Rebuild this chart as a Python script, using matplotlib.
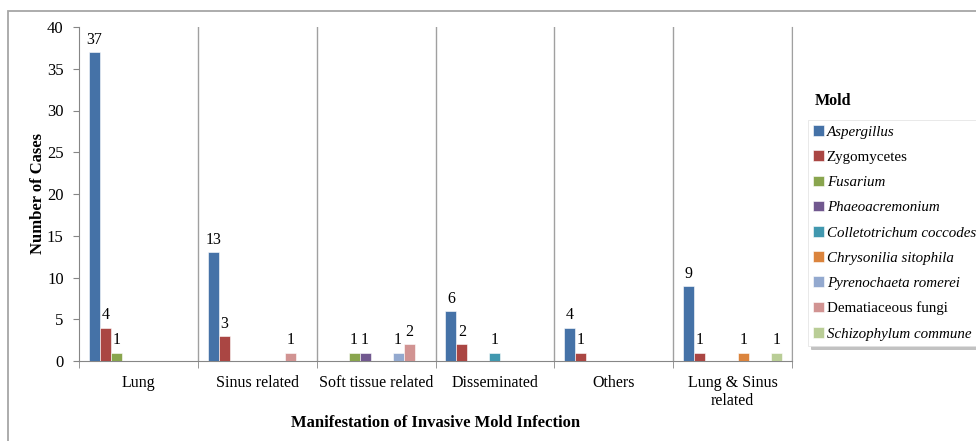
import matplotlib
matplotlib.use("Agg")
import matplotlib.pyplot as plt
import numpy as np
from matplotlib.patches import Rectangle

plt.rcParams['font.family'] = ['Liberation Serif', 'DejaVu Serif']

categories = ["Lung", "Sinus related", "Soft tissue related", "Disseminated",
              "Others", "Lung & Sinus\nrelated"]
series_names = ["Aspergillus", "Zygomycetes", "Fusarium", "Phaeoacremonium",
                "Colletotrichum coccodes", "Chrysonilia sitophila",
                "Pyrenochaeta romerei", "Dematiaceous fungi", "Schizophylum commune"]
italic_flags = [True, False, True, True, True, True, True, False, True]

aspergillus = [37, 13, 0, 6, 4, 9]
zygomycetes = [4, 3, 0, 2, 1, 1]
fusarium = [1, 0, 1, 0, 0, 0]
phaeoacremonium = [0, 0, 1, 0, 0, 0]
colletotrichum = [0, 0, 0, 1, 0, 0]
chrysonilia = [0, 0, 0, 0, 0, 1]
pyrenochaeta = [0, 0, 1, 0, 0, 0]
dematiaceous = [0, 1, 2, 0, 0, 0]
schizophylum = [0, 0, 0, 0, 0, 1]
series_values = [aspergillus, zygomycetes, fusarium, phaeoacremonium, colletotrichum,
                 chrysonilia, pyrenochaeta, dematiaceous, schizophylum]

colors = ["#4572A7", "#AA4643", "#89A54E", "#71588F", "#4198AF",
          "#DB843D", "#93A9CF", "#D19392", "#B9CD96"]

W, H = 976, 441
fig = plt.figure(figsize=(W / 100, H / 100), dpi=100)
ax = fig.add_axes([79 / W, 1 - 361 / H, (792 - 79) / W, (361 - 27) / H])

# outer chart border
fig.patches.append(Rectangle((8 / W, -0.05), 1.1, 1 - 11 / H + 0.05,
                             transform=fig.transFigure, fill=False,
                             edgecolor="#a6a6a6", linewidth=1.3))

n = len(series_names)
bw = 0.0926
x = np.arange(len(categories))
for i, (name, vals, c) in enumerate(zip(series_names, series_values, colors)):
    offs = (i - (n - 1) / 2) * bw
    bars = ax.bar(x + offs, vals, width=bw, color=c, label=name,
                  edgecolor="white", linewidth=0.4, zorder=3)
    labels = [str(v) if v else "" for v in vals]
    ax.bar_label(bars, labels=labels, padding=3, fontsize=11.5)

ax.set_xlim(-0.5, len(categories) - 0.5)
ax.set_ylim(0, 40)
ax.set_yticks(np.arange(0, 41, 5))
ax.tick_params(axis="y", labelsize=12, length=4, color="#868686", pad=7)

ax.set_xticks(x)
ax.set_xticklabels(categories, fontsize=11.5)
ax.tick_params(axis="x", which="major", length=0, pad=10)
ax.set_xticks(np.arange(-0.5, len(categories), 1.0), minor=True)
ax.tick_params(axis="x", which="minor", length=5, color="#868686")

for b in np.arange(0.5, len(categories), 1.0):
    ax.axvline(b, color="#a0a0a0", linewidth=1.0, zorder=1)

ax.spines["top"].set_visible(False)
ax.spines["right"].set_color("#a0a0a0")
ax.spines["left"].set_color("#868686")
ax.spines["bottom"].set_color("#868686")

ax.set_ylabel("Number of Cases", fontsize=12, fontweight="bold", labelpad=1)
ax.set_xlabel("Manifestation of Invasive Mold Infection", fontsize=12,
              fontweight="bold", labelpad=4)

fig.text(815 / W, 1 - 101 / H, "Mold", fontsize=11.5, fontweight="bold",
         va="center", ha="left")

handles, labels = ax.get_legend_handles_labels()
leg = fig.legend(handles, labels, loc="upper left",
                 bbox_to_anchor=(808 / W, 1 - 120 / H),
                 fontsize=10.8, frameon=True, fancybox=False,
                 shadow={"color": "#9a9a9a", "alpha": 0.6},
                 handlelength=0.7, handleheight=0.7, handletextpad=0.2,
                 labelspacing=0.78, borderpad=0.35, borderaxespad=0)
leg.get_frame().set_edgecolor("#e0e0e0")
leg.get_frame().set_linewidth(0.5)
for t, it in zip(leg.get_texts(), italic_flags):
    if it:
        t.set_style("italic")

fig.savefig("out.png", dpi=100)
